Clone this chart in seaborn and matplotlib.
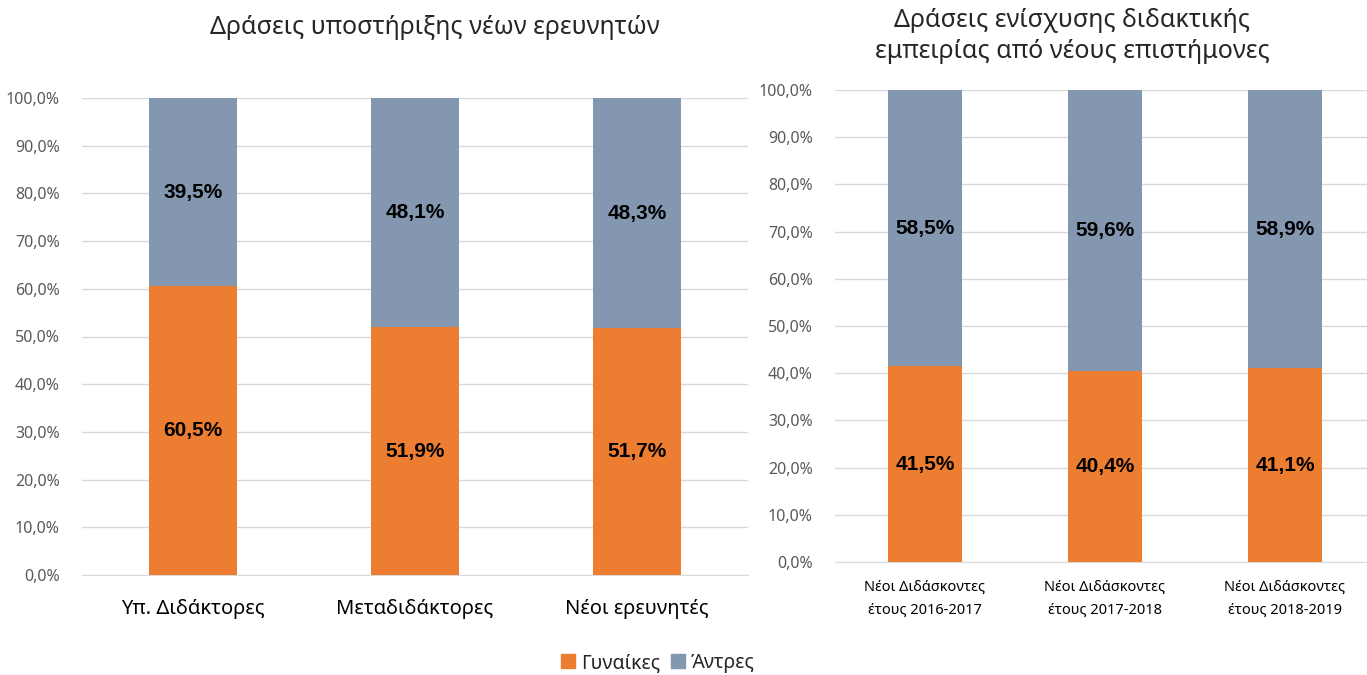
import numpy as np
import pandas as pd
import matplotlib
matplotlib.use("Agg")
import matplotlib.pyplot as plt
import seaborn as sns
from matplotlib.patches import Patch

sns.set_style("white")
plt.rcParams['font.family'] = ['Noto Sans', 'DejaVu Sans']

# data
left_title = "Δράσεις υποστήριξης νέων ερευνητών"
left_cats = ["Υπ. Διδάκτορες", "Μεταδιδάκτορες", "Νέοι ερευνητές"]
left_women = [60.5, 51.9, 51.7]
left_men = [39.5, 48.1, 48.3]

right_title = "Δράσεις ενίσχυσης διδακτικής\nεμπειρίας από νέους επιστήμονες"
right_cats = ["Νέοι Διδάσκοντες\nέτους 2016-2017", "Νέοι Διδάσκοντες\nέτους 2017-2018", "Νέοι Διδάσκοντες\nέτους 2018-2019"]
right_women = [41.5, 40.4, 41.1]
right_men = [58.5, 59.6, 58.9]

series_names = ["Γυναίκες", "Άντρες"]
yticks = [0, 10, 20, 30, 40, 50, 60, 70, 80, 90, 100]

C_W = "#ED7D31"
C_M = "#8497B0"
GRID = "#D9D9D9"
TICK = "#595959"

W, H = 1367, 675
fig = plt.figure(figsize=(W / 100, H / 100), dpi=100)

def axes_px(x0, y0, x1, y1):
    return fig.add_axes([x0 / W, 1 - y1 / H, (x1 - x0) / W, (y1 - y0) / H])

ax1 = axes_px(82, 98, 748, 575)
ax2 = axes_px(835, 90, 1367, 562)

def draw(ax, cats, women, men, xlim, xfs, width, xpad):
    df = pd.DataFrame({"cat": cats, "w": women, "m": men})
    sns.barplot(data=df, x="cat", y="w", color=C_W, width=width, ax=ax,
                saturation=1, linewidth=0, zorder=3)
    sns.barplot(data=df, x="cat", y="m", color=C_M, width=width, ax=ax,
                saturation=1, linewidth=0, bottom=df["w"].values, zorder=3)
    for i, (w, m) in enumerate(zip(women, men)):
        for yc, v in ((w / 2, w), (w + m / 2, m)):
            ax.text(i, yc, f"{v:.1f}%".replace(".", ","), ha="center", va="center",
                    fontsize=15, fontweight="bold", color="black", zorder=4,
                    family=["Liberation Sans", "DejaVu Sans"])
    ax.set_ylim(0, 100)
    ax.set_xlim(*xlim)
    ax.set_yticks(yticks)
    ax.set_yticklabels([f"{v:.1f}%".replace(".", ",") for v in yticks], fontsize=11.5, color=TICK)
    ax.tick_params(axis="x", labelsize=xfs, colors="black", length=0, pad=xpad)
    ax.tick_params(axis="y", length=0, pad=16)
    ax.set_xlabel("")
    ax.set_ylabel("")
    for s in ["top", "right", "left"]:
        ax.spines[s].set_visible(False)
    ax.spines["bottom"].set_color(GRID)
    ax.grid(axis="y", color=GRID, linewidth=1, zorder=0)
    ax.set_axisbelow(True)

draw(ax1, left_cats, left_women, left_men, (-0.5, 2.5), 14.5, 0.4, 17)
draw(ax2, right_cats, right_women, right_men, (-0.5, 2.456), 10.5, 0.41, 13)
for lbl in ax2.get_xticklabels():
    lbl.set_linespacing(1.7)

fig.text(435 / W, 1 - 28 / H, left_title, ha="center", va="center", fontsize=18)
fig.text(1072 / W, 1 - 36 / H, right_title, ha="center", va="center", fontsize=18, linespacing=1.3)

handles = [Patch(color=C_W, label=series_names[0]), Patch(color=C_M, label=series_names[1])]
fig.legend(handles=handles, loc="center", bbox_to_anchor=(658 / W, 1 - 663 / H), ncol=2,
           frameon=False, fontsize=14, handlelength=0.7, handleheight=0.7,
           handletextpad=0.3, columnspacing=0.6)

fig.savefig("out.png", dpi=100)
